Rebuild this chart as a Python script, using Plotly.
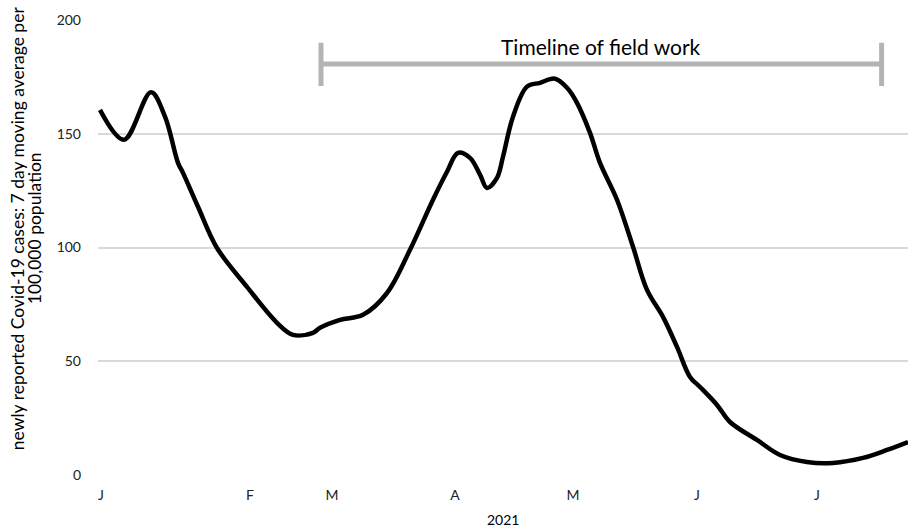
import plotly.graph_objects as go

# Day index from the start of 2021 series (approx.)
days = [0, 6, 12.75, 16.25, 19.5, 20.75, 24.5, 29.25, 36.75, 44.25, 48.25, 53.25, 55,
        60, 65.75, 71.75, 77.5, 83.25, 86.75, 89.5, 92.5, 95, 96.75, 99.25, 100.75,
        103.25, 106.75, 110, 113.75, 116.75, 119.25, 122.5, 125, 129.25, 133.25,
        136.75, 140.75, 144.25, 147.5, 150, 154.25, 157.5, 164.25, 170, 176.75,
        183.25, 190.75, 196.75, 202]
cases = [160.5, 147.4, 168.2, 157.5, 137.2, 132.8, 117.9, 99.8, 82.7, 66.9, 61.6, 62.5, 64.7,
         68.2, 70.4, 80.0, 99.0, 121.0, 133.3, 141.6, 139.4, 132.0, 126.2, 130.6, 139.9,
         157.5, 170.7, 172.4, 174.2, 170.2, 163.6, 150.4, 137.2, 121.0, 100.3,
         81.4, 69.5, 56.3, 43.1, 38.7, 30.8, 23.3, 15.4, 8.8, 5.7,
         5.3, 7.5, 11.0, 14.5]

tick_pos = [0.25, 37.5, 58, 88.75, 118.25, 149.25, 179.25]
tick_text = ["J", "F", "M", "A", "M", "J", "J"]

fieldwork_start = 55.25
fieldwork_end = 195.4
fieldwork_level = 180.7
fieldwork_cap_low = 171
fieldwork_cap_high = 190
fieldwork_label = "Timeline of field work"

y_title_lines = ["newly reported Covid-19 cases: 7 day moving average per", "100,000 population"]
x_title = "2021"

FONT = "Lato, 'Open Sans', sans-serif"
GREY = "#b4b4b4"

fig = go.Figure()
fig.add_trace(go.Scatter(
    x=days, y=cases, mode="lines",
    line=dict(color="black", width=4.5, shape="spline", smoothing=1.0),
    showlegend=False, hoverinfo="skip"))

# field work timeline
fig.add_shape(type="line", x0=fieldwork_start, x1=fieldwork_end,
              y0=fieldwork_level, y1=fieldwork_level,
              line=dict(color=GREY, width=5), layer="above")
for xv in (fieldwork_start, fieldwork_end):
    fig.add_shape(type="line", x0=xv, x1=xv, y0=fieldwork_cap_low, y1=fieldwork_cap_high,
                  line=dict(color=GREY, width=5), layer="above")
fig.add_annotation(x=(fieldwork_start + fieldwork_end) / 2, y=188.5,
                   text=fieldwork_label, showarrow=False, yanchor="middle",
                   font=dict(family=FONT, size=21, color="black"))

# y-axis title as two rotated annotations
for xp, line in zip([-0.099, -0.078], y_title_lines):
    fig.add_annotation(xref="paper", yref="paper", x=xp, y=0.542,
                       text=line, textangle=-90, showarrow=False,
                       xanchor="center", yanchor="middle",
                       font=dict(family=FONT, size=17.5, color="black"))

# x-axis title
fig.add_annotation(xref="paper", yref="paper", x=0.5, y=-0.097,
                   text=x_title, showarrow=False, xanchor="center", yanchor="middle",
                   font=dict(family=FONT, size=14, color="black"))

fig.update_layout(
    width=908, height=530,
    margin=dict(l=98, r=0, t=20, b=55, autoexpand=False),
    paper_bgcolor="white", plot_bgcolor="white",
    font=dict(family=FONT, size=14, color="#222222"),
    xaxis=dict(range=[-0.5, 202], tickmode="array", tickvals=tick_pos, ticktext=tick_text,
               showgrid=False, zeroline=False, showline=False, ticks="",
               ticklabelstandoff=10),
    yaxis=dict(range=[0, 200], tickvals=[0, 50, 100, 150, 200],
               showgrid=True, gridcolor="#d9d9d9", gridwidth=1.5, zeroline=False,
               showline=False, ticks="", ticklabelstandoff=16),
)

fig.write_html("out.html", config={"displayModeBar": False},
               post_script="document.body.style.margin='0';document.body.style.overflow='hidden';")
